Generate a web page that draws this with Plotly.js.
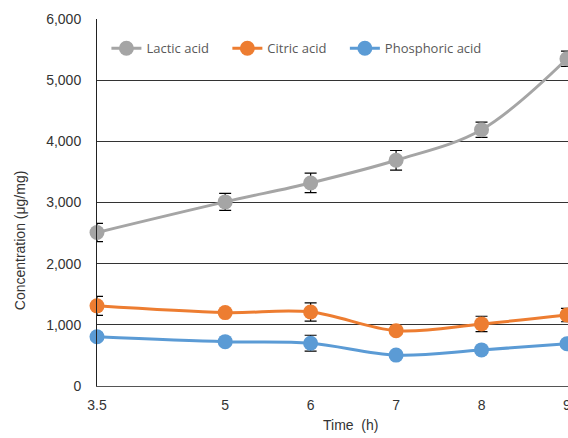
<!DOCTYPE html>
<html>
<head>
<meta charset="utf-8">
<script src="https://cdn.plot.ly/plotly-3.0.1.min.js"></script>
<style>html,body{margin:0;padding:0;background:#fff;}#chart{width:568px;height:438px;}</style>
</head>
<body>
<div id="chart"></div>
<script>
const timeH = [3.5, 5, 6, 7, 8, 9];
const tickLabels = ['3.5', '5', '6', '7', '8', '9'];
const seriesNames = ['Lactic acid', 'Citric acid', 'Phosphoric acid'];
const lacticAcid = [2510, 3010, 3320, 3690, 4190, 5350];
const lacticErr = [150, 140, 160, 160, 125, 125];
const citricAcid = [1310, 1200, 1210, 905, 1015, 1160];
const citricErr = [155, 50, 150, 60, 125, 110];
const phosphoricAcid = [805, 725, 700, 505, 590, 690];
const phosphoricErr = [60, 50, 130, 50, 50, 50];

const pad = '\u00a0\u00a0\u00a0\u00a0';
function series(name, y, err, color, padded) {
  return {
    type: 'scatter', mode: 'lines+markers', name: padded ? name + pad : name,
    x: timeH, y: y,
    line: {color: color, width: 3, shape: 'spline', smoothing: 1},
    marker: {color: color, size: 15},
    error_y: {type: 'data', array: err, visible: true, color: '#000', thickness: 1.2, width: 6},
    cliponaxis: false
  };
}

const data = [
  series(seriesNames[0], lacticAcid, lacticErr, '#A5A5A5', true),
  series(seriesNames[1], citricAcid, citricErr, '#ED7D31', true),
  series(seriesNames[2], phosphoricAcid, phosphoricErr, '#5B9BD5', false)
];

const layout = {
  width: 568, height: 438,
  margin: {l: 97, r: 0, t: 19, b: 52},
  paper_bgcolor: '#fff', plot_bgcolor: '#fff',
  font: {family: 'Liberation Sans, Arial, sans-serif', color: '#333', size: 14},
  showlegend: true,
  legend: {orientation: 'h', x: 0.02, y: 0.92, yanchor: 'middle', xanchor: 'left',
    font: {family: 'Open Sans, sans-serif', size: 13, color: '#595959'},
    bgcolor: 'rgba(0,0,0,0)', itemwidth: 30},
  xaxis: {
    range: [3.5, 9.012], tickvals: timeH, ticktext: tickLabels,
    showgrid: false, zeroline: false, showline: true, linecolor: '#555', linewidth: 1,
    ticks: '', ticklabelstandoff: 6, ticklabeloverflow: 'allow', tickfont: {size: 14, color: '#333'}
  },
  yaxis: {
    range: [0, 6000], dtick: 1000, tickformat: ',d',
    showgrid: true, gridcolor: '#333', gridwidth: 1,
    zeroline: false, showline: true, linecolor: '#222', linewidth: 1,
    ticks: '', ticklabelstandoff: 12, tickfont: {size: 14, color: '#333'}
  },
  annotations: [
    {text: 'Time  (h)', xref: 'paper', yref: 'paper', x: (350 - 97) / 471, y: -0.105,
     xanchor: 'center', yanchor: 'middle', showarrow: false, font: {size: 14, color: '#333'}},
    {text: 'Concentration (μg/mg)', xref: 'paper', yref: 'paper', x: -0.163, y: (386 - 240) / 367,
     xanchor: 'center', yanchor: 'middle', textangle: -90, showarrow: false, font: {size: 14, color: '#333'}}
  ]
};

Plotly.newPlot('chart', data, layout, {displayModeBar: false, staticPlot: true});
</script>
</body>
</html>
